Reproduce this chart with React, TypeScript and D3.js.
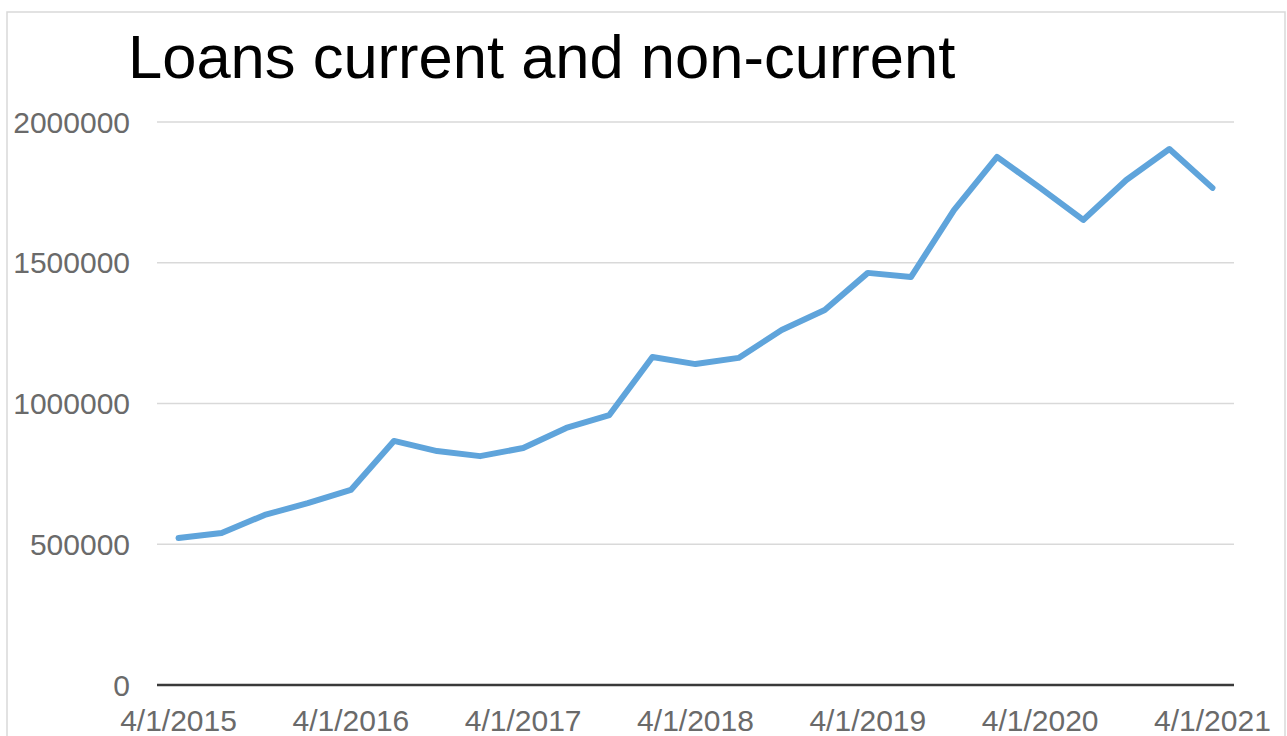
import React, { useEffect, useRef } from "react";
import * as d3 from "d3";

// quarterly dates (category axis)
const dates = [
  "4/1/2015", "7/1/2015", "10/1/2015", "1/1/2016",
  "4/1/2016", "7/1/2016", "10/1/2016", "1/1/2017",
  "4/1/2017", "7/1/2017", "10/1/2017", "1/1/2018",
  "4/1/2018", "7/1/2018", "10/1/2018", "1/1/2019",
  "4/1/2019", "7/1/2019", "10/1/2019", "1/1/2020",
  "4/1/2020", "7/1/2020", "10/1/2020", "1/1/2021",
  "4/1/2021",
];

const loans = [
  522000, 540000, 604000, 646000,
  693000, 867000, 831000, 813000,
  842000, 913000, 959000, 1165000,
  1140000, 1162000, 1261000, 1332000,
  1464000, 1449000, 1687000, 1876000,
  1766000, 1652000, 1794000, 1904000,
  1766000,
];

const yTicks = [0, 500000, 1000000, 1500000, 2000000];
const xTickLabels = ["4/1/2015", "4/1/2016", "4/1/2017", "4/1/2018", "4/1/2019", "4/1/2020", "4/1/2021"];

const W = 1287;
const H = 736;
const FONT = "'Liberation Sans', Arial, sans-serif";

export default function App() {
  const ref = useRef<SVGSVGElement>(null);

  useEffect(() => {
    const svg = d3.select(ref.current);
    svg.selectAll("*").remove();

    const x = d3.scaleBand().domain(dates).range([157, 1234]);
    const y = d3.scaleLinear().domain([0, 2000000]).range([685, 122]);

    // chart frame
    svg
      .append("rect")
      .attr("x", 7)
      .attr("y", 12)
      .attr("width", 1278)
      .attr("height", 760)
      .attr("fill", "white")
      .attr("stroke", "#d9d9d9")
      .attr("stroke-width", 1.5);

    // title
    svg
      .append("text")
      .attr("x", 128)
      .attr("y", 78)
      .attr("font-family", FONT)
      .attr("font-size", 61.5)
      .attr("fill", "#000")
      .text("Loans current and non-current");

    // gridlines
    svg
      .append("g")
      .selectAll("line")
      .data(yTicks.filter((d) => d > 0))
      .join("line")
      .attr("x1", 157)
      .attr("x2", 1234)
      .attr("y1", (d) => y(d))
      .attr("y2", (d) => y(d))
      .attr("stroke", "#d9d9d9")
      .attr("stroke-width", 1.5);

    // y labels
    svg
      .append("g")
      .selectAll("text")
      .data(yTicks)
      .join("text")
      .attr("x", 130)
      .attr("y", (d) => y(d))
      .attr("dy", "0.35em")
      .attr("text-anchor", "end")
      .attr("font-family", FONT)
      .attr("font-size", 30)
      .attr("fill", "#6a6a6a")
      .text((d) => d3.format("d")(d));

    // x axis line
    svg
      .append("line")
      .attr("x1", 157)
      .attr("x2", 1234)
      .attr("y1", y(0))
      .attr("y2", y(0))
      .attr("stroke", "#3a3a3a")
      .attr("stroke-width", 2.5);

    // x labels
    svg
      .append("g")
      .selectAll("text")
      .data(xTickLabels)
      .join("text")
      .attr("x", (d) => (x(d) as number) + x.bandwidth() / 2)
      .attr("y", 731)
      .attr("text-anchor", "middle")
      .attr("font-family", FONT)
      .attr("font-size", 30)
      .attr("fill", "#6a6a6a")
      .text((d) => d);

    // line
    const line = d3
      .line<number>()
      .x((d, i) => (x(dates[i]) as number) + x.bandwidth() / 2)
      .y((d) => y(d));

    svg
      .append("path")
      .datum(loans)
      .attr("d", line)
      .attr("fill", "none")
      .attr("stroke", "#5fa4db")
      .attr("stroke-width", 6)
      .attr("stroke-linejoin", "round")
      .attr("stroke-linecap", "round");
  }, []);

  return (
    <svg
      ref={ref}
      width={W}
      height={H}
      style={{ position: "absolute", left: 0, top: 0, background: "white" }}
    ></svg>
  );
}
